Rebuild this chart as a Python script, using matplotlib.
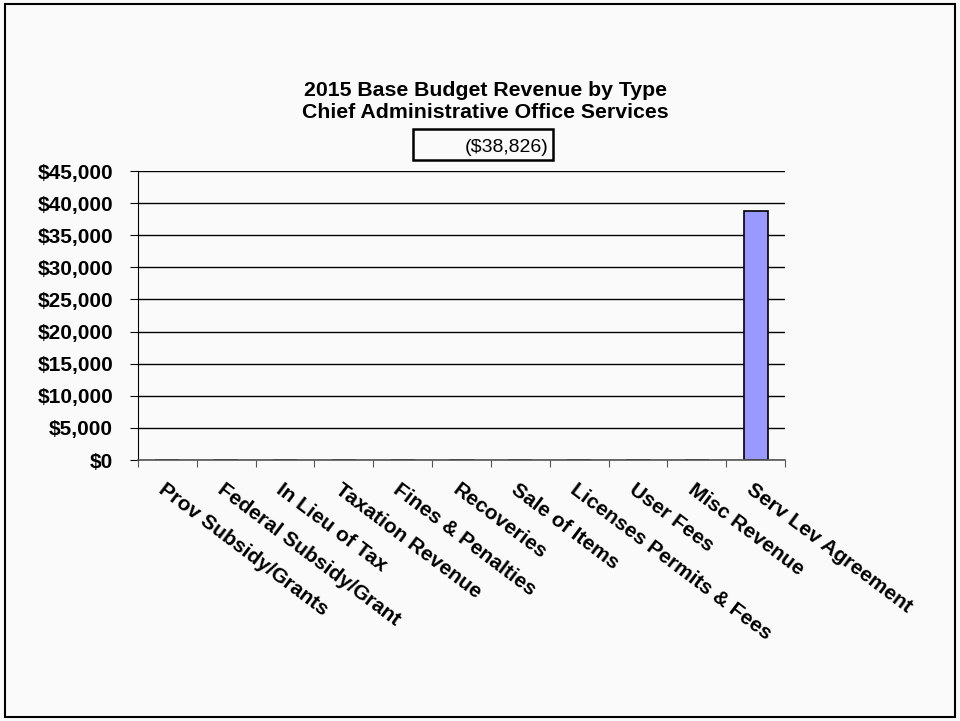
import matplotlib.pyplot as plt
import numpy as np
from matplotlib.patches import Rectangle

categories = ['Prov Subsidy/Grants', 'Federal Subsidy/Grant', 'In Lieu of Tax',
              'Taxation Revenue', 'Fines & Penalties', 'Recoveries', 'Sale of Items',
              'Licenses Permits & Fees', 'User Fees', 'Misc Revenue', 'Serv Lev Agreement']
revenue = [0, 0, 0, 0, 0, 0, 0, 0, 0, 0, 38826]
total_label = '($38,826)'
yticks = np.arange(0, 45001, 5000)

plt.rcParams['font.family'] = ['Liberation Sans', 'DejaVu Sans']

fig = plt.figure(figsize=(9.6, 7.21), dpi=100)
fig.patch.set_facecolor('#fafafa')
fig.patches.append(Rectangle((0.005, 0.006), 0.99, 0.988, transform=fig.transFigure,
                             fill=False, edgecolor='black', linewidth=1.5))

ax = fig.add_axes([138/960, 1 - 460/721, (785 - 138)/960, (460 - 171)/721])
ax.set_facecolor('none')

x = np.arange(len(categories))
ax.bar(x, revenue, width=0.41, color='#9999ff', edgecolor='black', linewidth=1.2, zorder=3)

ax.set_xlim(-0.5, len(categories) - 0.5)
ax.set_ylim(0, 45000)
ax.set_yticks(yticks)
ax.set_yticklabels(['${:,.0f}'.format(v) for v in yticks], fontsize=15, fontweight='bold')
ax.yaxis.grid(True, color='black', linewidth=1)
ax.set_axisbelow(True)

# category ticks sit on the boundaries between bars
ax.set_xticks(np.arange(len(categories) + 1) - 0.5)
ax.set_xticklabels([])
ax.tick_params(axis='x', length=5, color='#555555', direction='out')
ax.tick_params(axis='y', length=6, color='black', pad=12)

for xi, name in zip(x, categories):
    ax.text(xi - 0.02, -0.07, name, transform=ax.get_xaxis_transform(),
            rotation=-37, rotation_mode='anchor', ha='left', va='top',
            fontsize=15, fontweight='bold', zorder=5)

for side in ['top', 'right']:
    ax.spines[side].set_visible(False)
ax.spines['left'].set_color('black')
ax.spines['bottom'].set_color('#555555')
ax.spines['bottom'].set_linewidth(1.2)
ax.spines['bottom'].set_zorder(4)

fig.text(0.5055, 1 - 101/721, '2015 Base Budget Revenue by Type\nChief Administrative Office Services',
         ha='center', va='center', fontsize=15.3, fontweight='bold', linespacing=1.2)
fig.patches.append(Rectangle((413/960, 1 - 160/721), 140/960, 31/721, transform=fig.transFigure,
                             fill=False, edgecolor='black', linewidth=1.8))
fig.text(507/960, 1 - 147/721, total_label, ha='center', va='center', fontsize=14)

plt.savefig('out.png', dpi=100, facecolor=fig.get_facecolor())
